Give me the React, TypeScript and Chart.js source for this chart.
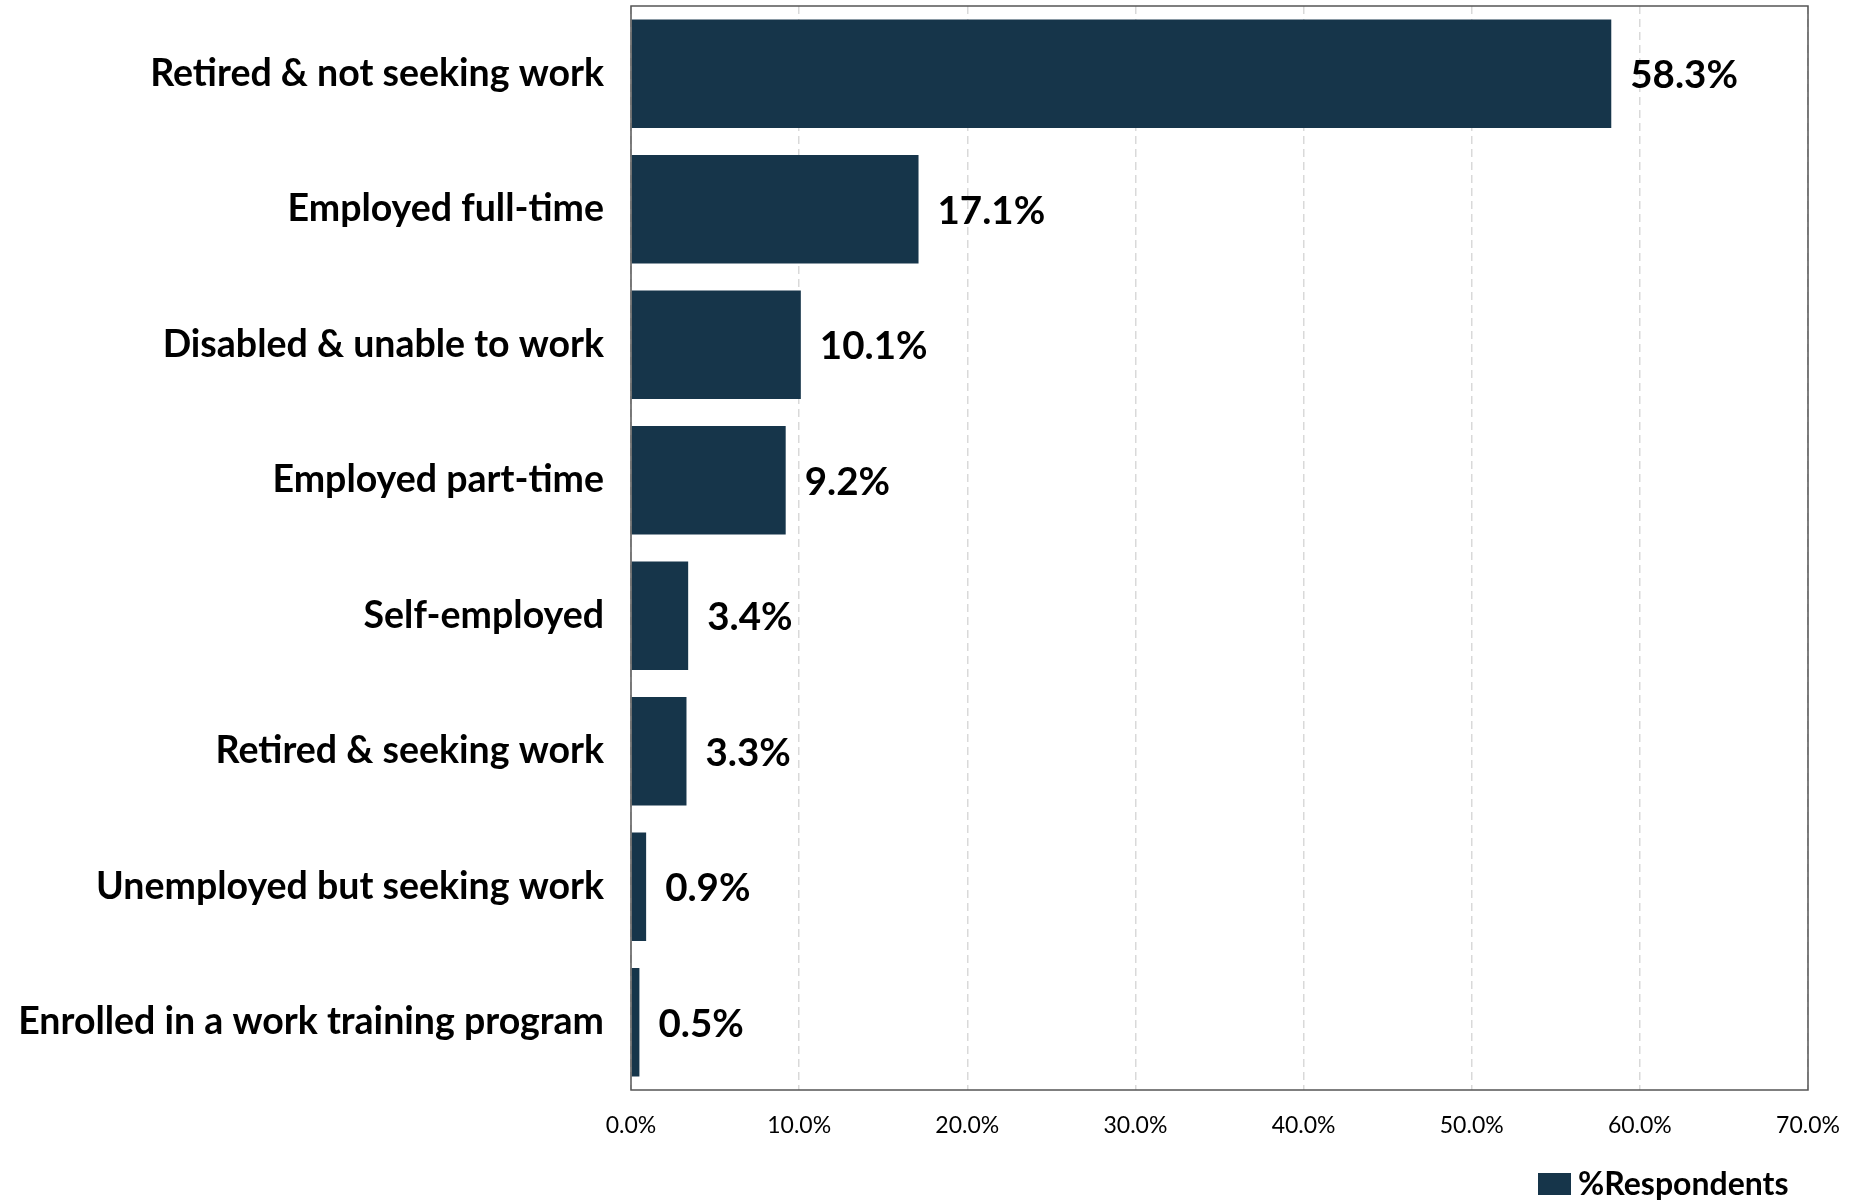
import React, { useEffect, useRef } from "react";
import { Chart, registerables } from "chart.js";
Chart.register(...registerables);

const categories = [
  "Retired & not seeking work",
  "Employed full-time",
  "Disabled & unable to work",
  "Employed part-time",
  "Self-employed",
  "Retired & seeking work",
  "Unemployed but seeking work",
  "Enrolled in a work training program",
];
const values = [58.3, 17.1, 10.1, 9.2, 3.4, 3.3, 0.9, 0.5];
const seriesLabel = "%Respondents";
const xMin = 0;
const xMax = 70;
const xStep = 10;

const BAR = "#16354a";
const FONT = "Lato";

export default function App() {
  const ref = useRef<HTMLCanvasElement>(null);
  useEffect(() => {
    if (!ref.current) return;
    const framePlugin = {
      id: "frame",
      afterDatasetsDraw(chart: any) {
        const { ctx, chartArea: a } = chart;
        ctx.save();
        ctx.strokeStyle = "#555555";
        ctx.lineWidth = 1.5;
        ctx.strokeRect(a.left, a.top, a.right - a.left, a.bottom - a.top);
        ctx.restore();
      },
    };
    const valuePlugin = {
      id: "values",
      afterDatasetsDraw(chart: any) {
        const { ctx } = chart;
        const meta = chart.getDatasetMeta(0);
        ctx.save();
        ctx.fillStyle = "#000";
        ctx.font = `bold 38.5px ${FONT}`;
        ctx.textAlign = "left";
        ctx.textBaseline = "middle";
        meta.data.forEach((bar: any, i: number) => {
          ctx.fillText(values[i].toFixed(1) + "%", bar.x + 19, bar.y + 2);
        });
        ctx.restore();
      },
    };
    const legendPlugin = {
      id: "customLegend",
      afterDraw(chart: any) {
        const { ctx } = chart;
        ctx.save();
        ctx.fillStyle = BAR;
        ctx.fillRect(1538, 1173, 33, 22);
        ctx.fillStyle = "#000";
        ctx.font = `bold 32px ${FONT}`;
        ctx.textAlign = "left";
        ctx.textBaseline = "middle";
        ctx.fillText(chart.data.datasets[0].label, 1578, 1185);
        ctx.restore();
      },
    };
    const chart = new Chart(ref.current, {
      type: "bar",
      data: {
        labels: categories,
        datasets: [
          {
            label: seriesLabel,
            data: values,
            backgroundColor: BAR,
            barPercentage: 0.8,
            categoryPercentage: 1,
          },
        ],
      },
      options: {
        indexAxis: "y",
        responsive: false,
        maintainAspectRatio: false,
        animation: false,
        devicePixelRatio: 1,
        layout: { padding: { top: 6, right: 56, left: 0, bottom: 0 } },
        plugins: { legend: { display: false }, tooltip: { enabled: false } },
        scales: {
          x: {
            min: xMin,
            max: xMax,
            ticks: {
              stepSize: xStep,
              callback: (v: any) => Number(v).toFixed(1) + "%",
              font: { family: FONT, size: 23 },
              color: "#000",
              padding: 22,
            },
            grid: { color: "#d9d9d9", lineWidth: 1.5, drawTicks: false },
            border: { display: false, dash: [8, 5] },
            afterFit: (s: any) => {
              s.height = 111;
              s.paddingLeft = 0;
              s.paddingRight = 0;
            },
          },
          y: {
            ticks: {
              font: { family: FONT, size: 37.5, weight: "bold" },
              color: "#000",
              padding: 27,
            },
            grid: { display: false, drawTicks: false },
            border: { display: false },
            afterFit: (s: any) => {
              s.width = 631;
              s.paddingTop = 0;
              s.paddingBottom = 0;
            },
          },
        },
      } as any,
      plugins: [framePlugin, valuePlugin, legendPlugin],
    });
    return () => chart.destroy();
  }, []);
  return (
    <div style={{ position: "absolute", left: 0, top: 0, width: 1864, height: 1201, background: "#fff" }}>
      <canvas ref={ref} width={1864} height={1201} style={{ width: 1864, height: 1201 }} />
    </div>
  );
}
